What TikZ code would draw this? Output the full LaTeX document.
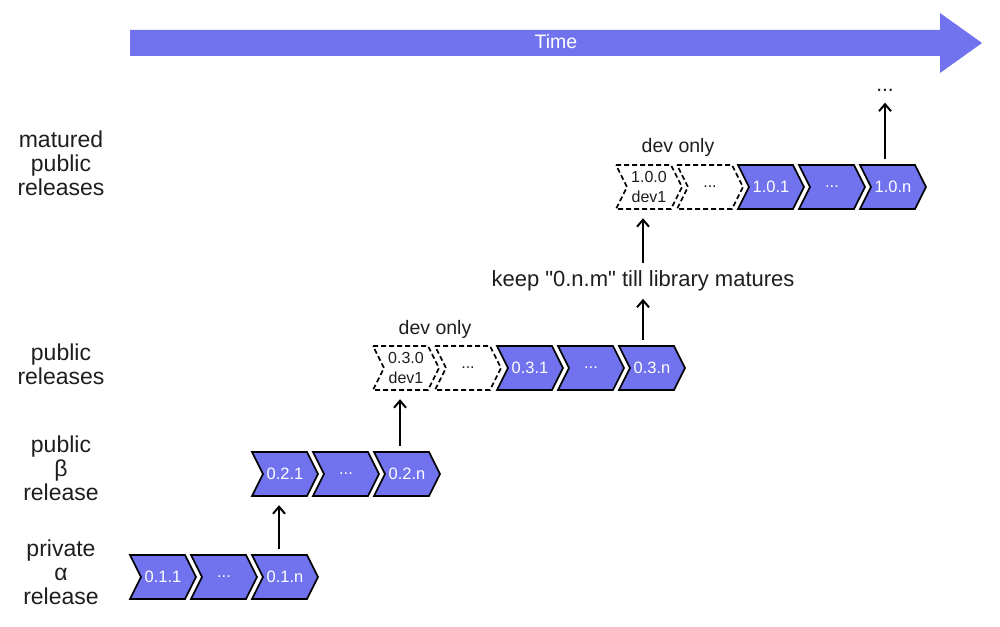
\documentclass[tikz,border=0pt]{standalone}
\usepackage{fontspec}
\setmainfont{Liberation Sans}
\usetikzlibrary{arrows.meta,calc}
\definecolor{chev}{RGB}{112,114,238}
\definecolor{txt}{RGB}{30,30,30}
\tikzset{
  chevshape/.style={draw=black,line width=1.7pt,line join=miter},
  chevfull/.style={chevshape,fill=chev},
  chevdash/.style={chevshape,dash pattern=on 5pt off 3pt,fill=white},
  chevtext/.style={inner sep=0pt,minimum width=66pt,minimum height=44pt,font=\fontsize{16.5}{19}\selectfont,text=white,align=center},
  chevdtext/.style={chevtext,text=txt,font=\fontsize{16}{20}\selectfont},
  rowlabel/.style={align=center,font=\fontsize{23}{24}\selectfont,text=txt},
  note/.style={font=\fontsize{19.5}{22}\selectfont,text=txt},
  up/.style={-{Straight Barb[length=7pt,width=12pt,line width=2pt]},line width=2pt},
}
% \mychev{name}{x0}{ymid}{style}{textstyle}{text}
\newcommand{\mychev}[6]{%
  \draw[#4] (#2,#3-22) -- ++(55,0) -- ++(11,22) -- ++(-11,22) -- ++(-55,0) -- ++(11,-22) -- cycle;
  \node[#5] (#1) at (#2+33,#3) {#6};
}
\begin{document}
\begin{tikzpicture}[x=1pt,y=-1pt]
\useasboundingbox (0,0) rectangle (1000,626);
% Time arrow
\fill[chev] (130,30) -- (940,30) -- (940,13) -- (982,43) -- (940,73) -- (940,56) -- (130,56) -- cycle;
\node[text=white,font=\fontsize{19.5}{22}\selectfont] (time) at (556,42) {Time};
% row labels
\node[rowlabel] (l4) at (61,163) {matured\\public\\releases};
\node[rowlabel] (l3) at (61,364) {public\\releases};
\node[rowlabel] (l2) at (61,468) {public\\β\\release};
\node[rowlabel] (l1) at (61,572) {private\\α\\release};
% row 1
\mychev{a1}{130}{577}{chevfull}{chevtext}{0.1.1}
\mychev{a2}{191}{577}{chevfull}{chevtext}{...}
\mychev{a3}{252}{577}{chevfull}{chevtext}{0.1.n}
% row 2
\mychev{b1}{252}{474}{chevfull}{chevtext}{0.2.1}
\mychev{b2}{313}{474}{chevfull}{chevtext}{...}
\mychev{b3}{374}{474}{chevfull}{chevtext}{0.2.n}
% row 3
\mychev{c0}{373}{368}{chevdash}{chevdtext}{0.3.0\\dev1}
\mychev{c1}{435}{368}{chevdash}{chevdtext}{...}
\mychev{c2}{497}{368}{chevfull}{chevtext}{0.3.1}
\mychev{c3}{558}{368}{chevfull}{chevtext}{...}
\mychev{c4}{619}{368}{chevfull}{chevtext}{0.3.n}
% row 4
\mychev{d0}{616}{187}{chevdash}{chevdtext}{1.0.0\\dev1}
\mychev{d1}{677}{187}{chevdash}{chevdtext}{...}
\mychev{d2}{738}{187}{chevfull}{chevtext}{1.0.1}
\mychev{d3}{799}{187}{chevfull}{chevtext}{...}
\mychev{d4}{860}{187}{chevfull}{chevtext}{1.0.n}
% notes
\node[note] (n3) at (435,329) {dev only};
\node[note] (n4) at (678,147) {dev only};
\node[font=\fontsize{22}{24}\selectfont,text=txt] (keep) at (643,281) {keep \textquotedbl 0.n.m\textquotedbl{} till library matures};
\node[font=\fontsize{21}{24}\selectfont,text=txt] (more) at (885,90) {...};
% arrows
\draw[up] ($(a3.north)+(-6,-6)$) -- ($(b1.south)+(-6,9)$);
\draw[up] ($(b3.north)+(-7,-6)$) -- ($(c0.south)+(-6,9)$);
\draw[up] ($(c4.north)+(-9,-6)$) -- ($(keep.south)+(0,4)$);
\draw[up] ($(keep.north)+(0,-4)$) -- ($(d0.south)+(-6,9)$);
\draw[up] ($(d4.north)+(-8,-6)$) -- ($(more.south)+(0,8)$);
\end{tikzpicture}
\end{document}
